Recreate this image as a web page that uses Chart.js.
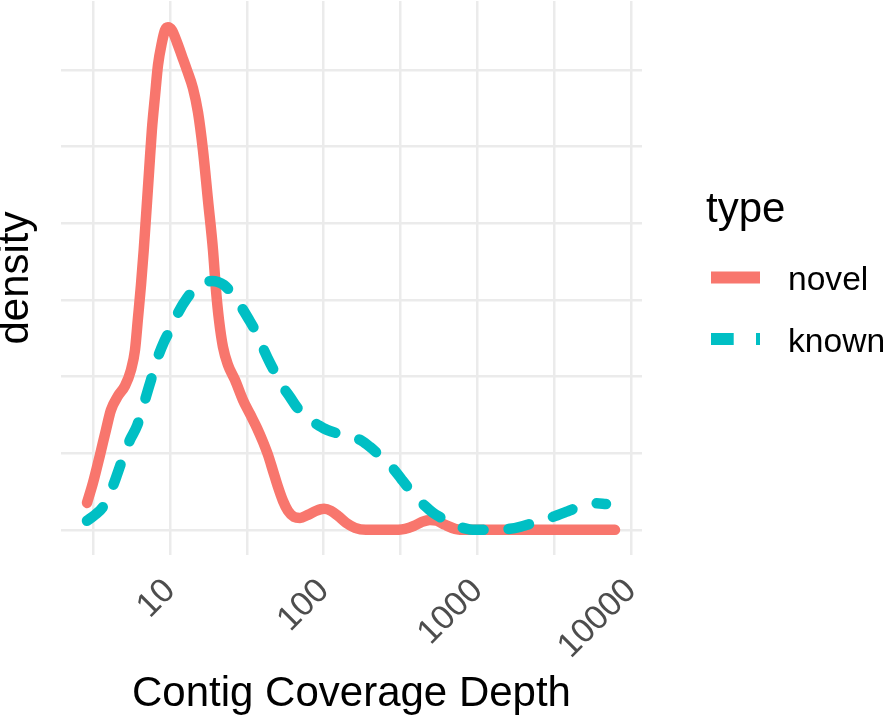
<!DOCTYPE html>
<html>
<head>
<meta charset="utf-8">
<script src="https://cdn.jsdelivr.net/npm/chart.js@4.4.1/dist/chart.umd.min.js"></script>
<style>
  html, body { margin: 0; padding: 0; background: #ffffff; }
  #wrap { width: 886px; height: 719px; position: relative; }
</style>
</head>
<body>
<div id="wrap"><canvas id="c" width="886" height="719"></canvas></div>
<script>
// ---------------- data ----------------
const seriesNames = ['novel', 'known'];

const novelDepth = [2.884, 3.155, 3.505, 3.834, 4.131, 4.589, 5.096, 5.576, 5.920, 6.192,
  6.477, 6.749, 7.030, 7.320, 7.624, 8.001, 8.355, 8.872, 9.279,
  9.705, 10.30, 11.10, 11.97, 12.90, 14.11, 15.21, 16.39, 17.67, 19.05,
  19.92, 20.84, 22.12, 23.85, 26.48, 29.85, 33.16, 36.81, 40.29, 43.42,
  46.79, 50.43, 54.35, 58.57, 64.10, 70.13, 79.04, 89.13, 100.5, 111.6,
  123.9, 139.7, 159.8, 188.4, 270.0, 338.1, 386.7, 436.1, 491.6, 546.1,
  615.5, 715.0, 868.5, 1893, 4003, 7858];
const novelDensity = [0.176, 0.306, 0.489, 0.652, 0.782, 0.874, 0.939, 1.043, 1.173, 1.382,
  1.597, 1.825, 2.086, 2.347, 2.608, 2.836, 3.031, 3.181, 3.259,
  3.279, 3.259, 3.181, 3.090, 2.999, 2.881, 2.725, 2.477, 2.151, 1.825,
  1.565, 1.369, 1.193, 1.076, 0.978, 0.847, 0.756, 0.665, 0.574, 0.489,
  0.385, 0.280, 0.189, 0.124, 0.085, 0.078, 0.098, 0.124, 0.137, 0.124,
  0.091, 0.046, 0.013, 0.000, 0.000, 0.007, 0.026, 0.052, 0.065, 0.059,
  0.033, 0.007, 0.000, 0.000, 0.000, 0.000];

const knownDepth = [2.884, 3.251, 3.665, 3.951, 4.257, 4.589, 5.020, 5.493, 6.100, 6.877,
  7.524, 8.354, 9.141, 10.00, 11.27, 12.90, 14.76, 17.15, 18.76, 20.53,
  22.45, 24.57, 28.53, 32.18, 36.81, 40.29, 44.73, 49.68, 54.35, 60.37,
  66.04, 73.34, 81.46, 91.82, 105.1, 120.2, 137.6, 155.1, 177.5, 200.1,
  225.6, 258.1, 290.9, 323.1, 364.3, 404.6, 456.1, 514.2, 597.4, 693.9,
  806.1, 936.3, 1121, 1341, 1630, 1893, 2199, 2554, 3104, 3771,
  4380, 5088, 5911, 6866];
const knownDensity = [0.059, 0.098, 0.150, 0.215, 0.287, 0.378, 0.489, 0.587, 0.678, 0.847,
  0.978, 1.128, 1.226, 1.304, 1.415, 1.512, 1.578, 1.617, 1.623, 1.617,
  1.597, 1.558, 1.467, 1.382, 1.278, 1.186, 1.089, 1.004, 0.932, 0.867,
  0.808, 0.756, 0.717, 0.684, 0.652, 0.632, 0.619, 0.606, 0.580, 0.541,
  0.495, 0.443, 0.385, 0.326, 0.261, 0.209, 0.156, 0.111, 0.072, 0.033,
  0.013, 0.000, 0.000, 0.000, 0.007, 0.020, 0.039, 0.059, 0.085, 0.117,
  0.143, 0.163, 0.173, 0.169];

const xMajorTicks = [10, 100, 1000, 10000];
const xTickLabels = ['10', '100', '1000', '10000'];
const xMinorTicks = [3.1623, 31.623, 316.23, 3162.3];
const yGridValues = [0, 0.5, 1, 1.5, 2, 2.5, 3];

const xTitle = 'Contig Coverage Depth';
const yTitle = 'density';
const legendTitle = 'type';

// ---------------- chart ----------------
const FAMILY = "'Liberation Sans', Arial, Helvetica, sans-serif";
Chart.defaults.font.family = FAMILY;

const COLORS = { novel: '#F8766D', known: '#00BFC4' };
const KEY_DASH = { novel: [], known: [22.7, 22.3] };

function toPoints(xs, ys) { return xs.map((x, i) => ({ x: x, y: ys[i] })); }

const ggLegend = {
  id: 'ggLegend',
  afterDraw(chart) {
    const ctx = chart.ctx;
    ctx.save();
    ctx.fillStyle = '#000000';
    ctx.textAlign = 'left';
    ctx.textBaseline = 'alphabetic';
    ctx.font = '42px ' + FAMILY;
    ctx.fillText(legendTitle, 706, 222);
    const items = chart.data.datasets.slice().sort((a, b) => a.legendIndex - b.legendIndex);
    items.forEach((ds, i) => {
      const y = 277.5 + i * 61.5;
      ctx.save();
      ctx.strokeStyle = ds.borderColor;
      ctx.lineWidth = 12;
      ctx.lineCap = 'butt';
      ctx.setLineDash(KEY_DASH[ds.label]);
      ctx.beginPath();
      ctx.moveTo(711, y);
      ctx.lineTo(760, y);
      ctx.stroke();
      ctx.restore();
      ctx.font = '33.6px ' + FAMILY;
      ctx.fillStyle = '#000000';
      ctx.fillText(ds.label, 788, y + 12.5);
    });
    ctx.restore();
  }
};

const cfg = {
  type: 'line',
  data: {
    datasets: [
      {
        label: seriesNames[0], legendIndex: 0, order: 1,
        data: toPoints(novelDepth, novelDensity),
        borderColor: COLORS.novel, borderWidth: 10.5,
        borderCapStyle: 'round', borderJoinStyle: 'round',
        pointRadius: 0, cubicInterpolationMode: 'monotone', fill: false
      },
      {
        label: seriesNames[1], legendIndex: 1, order: 0,
        data: toPoints(knownDepth, knownDensity),
        borderColor: COLORS.known, borderWidth: 10.5,
        borderCapStyle: 'round', borderJoinStyle: 'round',
        borderDash: [21, 25],
        pointRadius: 0, cubicInterpolationMode: 'monotone', fill: false
      }
    ]
  },
  options: {
    responsive: false,
    animation: false,
    devicePixelRatio: 1,
    layout: { padding: { left: 0, right: 244, top: 1, bottom: 0 } },
    plugins: { legend: { display: false }, tooltip: { enabled: false } },
    scales: {
      x: {
        type: 'logarithmic',
        min: Math.pow(10, 0.291),
        max: Math.pow(10, 4.071),
        afterBuildTicks: (s) => {
          const all = xMinorTicks.concat(xMajorTicks).sort((a, b) => a - b);
          s.ticks = all.map(v => ({ value: v }));
        },
        afterFit: (s) => { s.height = 164; },
        grid: { color: '#EBEBEB', lineWidth: 2.5, drawTicks: false },
        border: { display: false },
        ticks: {
          autoSkip: false, minRotation: 45, maxRotation: 45, padding: 16,
          color: '#4D4D4D', font: { size: 34, family: FAMILY },
          callback: (v) => { const i = xMajorTicks.indexOf(v); return i >= 0 ? xTickLabels[i] : ''; }
        },
        title: {
          display: true, text: xTitle, color: '#000000',
          font: { size: 42, family: FAMILY, lineHeight: 1 },
          padding: { top: 0, bottom: 4 }
        }
      },
      y: {
        type: 'linear',
        min: -0.164, max: 3.45,
        afterBuildTicks: (s) => { s.ticks = yGridValues.map(v => ({ value: v })); },
        afterFit: (s) => { s.width = 61; },
        grid: { color: '#EBEBEB', lineWidth: 2.5, drawTicks: false },
        border: { display: false },
        ticks: { display: false },
        title: {
          display: true, text: yTitle, color: '#000000',
          font: { size: 42, family: FAMILY, lineHeight: 0.8 },
          padding: 0
        }
      }
    }
  },
  plugins: [ggLegend]
};

new Chart(document.getElementById('c'), cfg);
</script>
</body>
</html>
